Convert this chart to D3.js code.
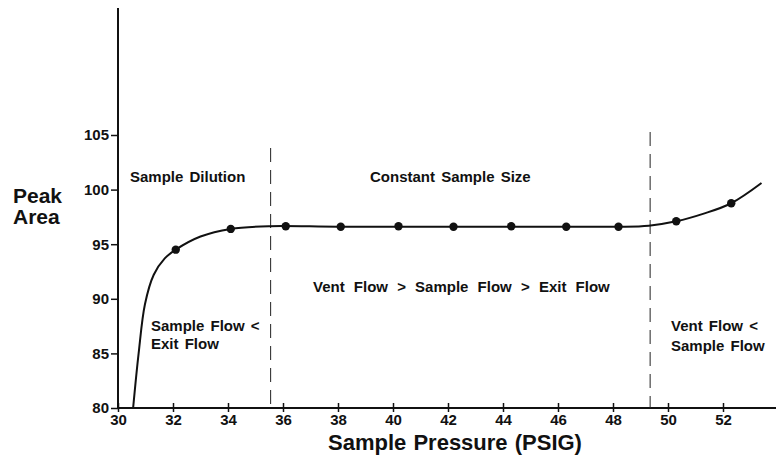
<!DOCTYPE html>
<html>
<head>
<meta charset="utf-8">
<script src="https://cdn.jsdelivr.net/npm/d3@7/dist/d3.min.js"></script>
<style>
  body { margin: 0; background: #fff; }
  svg { display: block; font-family: "Liberation Sans", Arial, Helvetica, sans-serif; }
  .tick text { font-size: 15px; font-weight: bold; fill: #111; }
  .lbl { font-size: 15px; font-weight: bold; fill: #111; word-spacing: 2px; }
</style>
</head>
<body>
<svg id="chart" width="777" height="462"></svg>
<script>
// measured points (Sample Pressure, Peak Area)
var pointX = [32.1, 34.1, 36.1, 38.1, 40.2, 42.2, 44.3, 46.3, 48.2, 50.3, 52.3];
var pointY = [94.5, 96.4, 96.65, 96.6, 96.65, 96.6, 96.65, 96.6, 96.6, 97.1, 98.75];

// fitted curve
var curveX = [30.55, 30.75, 30.98, 31.3, 31.7, 32.1, 33.0, 34.1, 35.5, 38.0, 42.0, 46.0, 48.2, 49.3, 50.3, 51.3, 52.3, 53.4];
var curveY = [80, 85, 89.5, 92.2, 93.7, 94.5, 95.7, 96.4, 96.65, 96.6, 96.6, 96.6, 96.6, 96.7, 97.1, 97.8, 98.75, 100.6];

var xTicks = [30, 32, 34, 36, 38, 40, 42, 44, 46, 48, 50, 52];
var yTicks = [80, 85, 90, 95, 100, 105];
var dividers = [35.55, 49.35];

var svg = d3.select('#chart');

var x = d3.scaleLinear().domain([30, 52]).range([118, 723]);
var y = d3.scaleLinear().domain([80, 105]).range([408, 135]);

// axes lines
svg.append('line').attr('x1', x(30)).attr('x2', 776).attr('y1', y(80)).attr('y2', y(80))
  .attr('stroke', '#111').attr('stroke-width', 2);
svg.append('line').attr('x1', x(30)).attr('x2', x(30)).attr('y1', 8).attr('y2', y(80))
  .attr('stroke', '#111').attr('stroke-width', 2);

var xAxis = svg.append('g').attr('transform', 'translate(0,' + y(80) + ')')
  .call(d3.axisBottom(x).tickValues(xTicks).tickSize(4).tickSizeOuter(0).tickPadding(2));
xAxis.select('.domain').remove();
xAxis.selectAll('.tick line').attr('stroke', '#111').attr('stroke-width', 1.5).attr('y1', -5).attr('y2', 4);

var yAxis = svg.append('g').attr('transform', 'translate(' + x(30) + ',0)')
  .call(d3.axisLeft(y).tickValues(yTicks).tickSize(7).tickSizeOuter(0).tickPadding(2));
yAxis.select('.domain').remove();
yAxis.selectAll('.tick line').attr('stroke', '#111').attr('stroke-width', 1.5);

// dashed dividers
svg.selectAll('.div').data(dividers).enter().append('line')
  .attr('x1', function (d) { return x(d); }).attr('x2', function (d) { return x(d); })
  .attr('y1', function (d, i) { return i === 0 ? 148 : 132; })
  .attr('y2', y(80))
  .attr('stroke', '#222').attr('stroke-width', 1)
  .attr('stroke-dasharray', '14,8');

// curve
var curveData = curveX.map(function (v, i) { return [v, curveY[i]]; });
var line = d3.line()
  .x(function (d) { return x(d[0]); })
  .y(function (d) { return y(d[1]); })
  .curve(d3.curveCatmullRom.alpha(0.5));
svg.append('path').attr('d', line(curveData))
  .attr('fill', 'none').attr('stroke', '#111').attr('stroke-width', 2);

// points
svg.selectAll('.pt').data(pointX).enter().append('circle')
  .attr('cx', function (d) { return x(d); })
  .attr('cy', function (d, i) { return y(pointY[i]); })
  .attr('r', 4.2).attr('fill', '#111');

// labels
function label(txt, px, py, size) {
  var t = svg.append('text').attr('x', px).attr('y', py).attr('class', 'lbl').text(txt);
  if (size) t.style('font-size', size + 'px');
  return t;
}
label('Sample Dilution', 130, 182);
label('Constant Sample Size', 370, 182);
label('Vent Flow > Sample Flow > Exit Flow', 313, 292).style('word-spacing', '5px');
label('Sample Flow <', 151, 331);
label('Exit Flow', 151, 349);
label('Vent Flow <', 671, 331);
label('Sample Flow', 671, 351);
label('Peak', 13, 203, 21).style('word-spacing', '0');
label('Area', 13, 224, 21).style('word-spacing', '0');
label('Sample Pressure (PSIG)', 455, 450, 22).attr('text-anchor', 'middle').style('word-spacing', '1px');
</script>
</body>
</html>
